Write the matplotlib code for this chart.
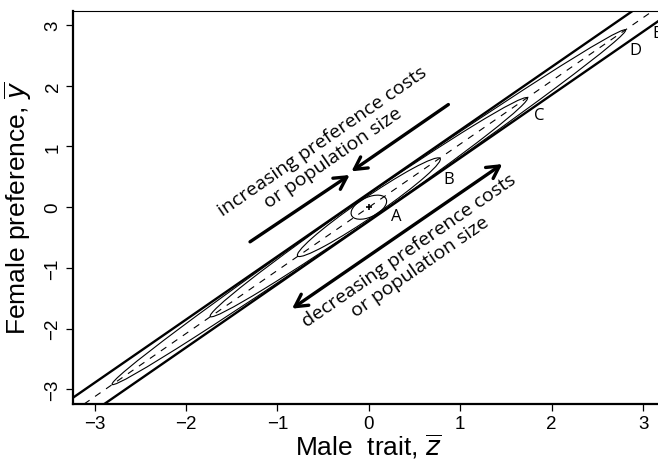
import numpy as np
import matplotlib
matplotlib.use('Agg')
import matplotlib.pyplot as plt
from matplotlib.patches import Ellipse

# slope of the line of equilibria (dashed) and of the contours
slope = 1.04

# contour ellipses A-D: half-length along the line, half-width across it (data units)
contour_names = ['A', 'B', 'C', 'D']
half_length = [0.24, 1.12, 2.50, 4.05]
half_width = [0.14, 0.135, 0.15, 0.155]

# outer contour E looks like two parallel lines: intercepts of those lines
outer_intercepts = [0.23, -0.23]

# letter labels (data coords)
label_names = ['A', 'B', 'C', 'D', 'E']
label_x = [0.30, 0.87, 1.86, 2.92, 3.15]
label_y = [-0.14, 0.46, 1.52, 2.59, 2.87]

# arrows: (tail x, tail y) -> (head x, head y)
inc_tail_x = [-1.30, 0.87]
inc_tail_y = [-0.57, 1.69]
inc_head_x = [-0.21, -0.19]
inc_head_y = [0.53, 0.59]
dec_end_x = [-0.84, 1.46]
dec_end_y = [-1.67, 0.71]

ticks = [-3, -2, -1, 0, 1, 2, 3]

plt.rcParams['font.family'] = ['Liberation Sans', 'DejaVu Sans']
plt.rcParams['mathtext.fontset'] = 'dejavusans'

fig = plt.figure(figsize=(6.58, 4.64), dpi=100)
# axes runs slightly past the right edge of the figure, like the cropped original
ax = fig.add_axes([72.7 / 658, 59 / 464, 592.3 / 658, 393 / 464])
ax.set_xlim(-3.24, 3.24)
ax.set_ylim(-3.24, 3.23)

# dashed line of equilibria
ax.axline((0, 0), slope=slope, color='black', lw=0.8, dashes=(6, 6))

# outer contour E
for b in outer_intercepts:
    ax.axline((0, b), slope=slope, color='black', lw=1.7)

angle = np.degrees(np.arctan(slope))
for L, w in zip(half_length, half_width):
    ax.add_patch(Ellipse((0, 0), 2 * L, 2 * w, angle=angle,
                         fill=False, edgecolor='black', lw=0.8))

# little dot at the centre
ax.plot([0], [0], marker='+', color='black', markersize=4, mew=1.2)

for name, x, y in zip(label_names, label_x, label_y):
    ax.text(x, y, name, fontsize=12, family='Open Sans', ha='center', va='center',
            clip_on=False)

arrow_kw = dict(arrowstyle='->,head_length=0.55,head_width=0.3', lw=2.4,
                color='black', shrinkA=0, shrinkB=0, mutation_scale=16)
for tx, ty, hx, hy in zip(inc_tail_x, inc_tail_y, inc_head_x, inc_head_y):
    ax.annotate('', xy=(hx, hy), xytext=(tx, ty), arrowprops=arrow_kw)
dbl_kw = dict(arrow_kw)
dbl_kw['arrowstyle'] = '<->,head_length=0.55,head_width=0.3'
ax.annotate('', xy=(dec_end_x[1], dec_end_y[1]), xytext=(dec_end_x[0], dec_end_y[0]),
            arrowprops=dbl_kw)

# on-screen angle of the lines for the rotated text
p0 = ax.transData.transform((0, 0))
p1 = ax.transData.transform((1, slope))
screen_angle = np.degrees(np.arctan2(p1[1] - p0[1], p1[0] - p0[0]))

ax.text(-0.45, 0.96, 'increasing preference costs\nor population size', fontsize=14,
        family='Open Sans', rotation=screen_angle, rotation_mode='anchor',
        ha='center', va='center', linespacing=1.1)
ax.text(0.50, -0.84, 'decreasing preference costs\nor population size', fontsize=14,
        family='Open Sans', rotation=screen_angle, rotation_mode='anchor',
        ha='center', va='center', linespacing=1.1)

# R-like frame
ax.spines['right'].set_visible(False)
ax.spines['left'].set_linewidth(1.6)
ax.spines['bottom'].set_linewidth(1.6)
ax.spines['top'].set_linewidth(0.8)
ax.set_xticks(ticks)
ax.set_yticks(ticks)
ax.tick_params(direction='out', length=5, width=0.9, labelsize=13.5, pad=3)
for lab in ax.get_yticklabels():
    lab.set_rotation(90)
    lab.set_va('center')

ax.set_xlabel(r'Male  trait, $\overline{z}$', fontsize=19)
ax.set_ylabel(r'Female preference, $\overline{y}$', fontsize=19)
ax.xaxis.set_label_coords(0.5, -0.07)
ax.yaxis.set_label_coords(-0.065, 0.5)

fig.savefig('out.png', dpi=100)
